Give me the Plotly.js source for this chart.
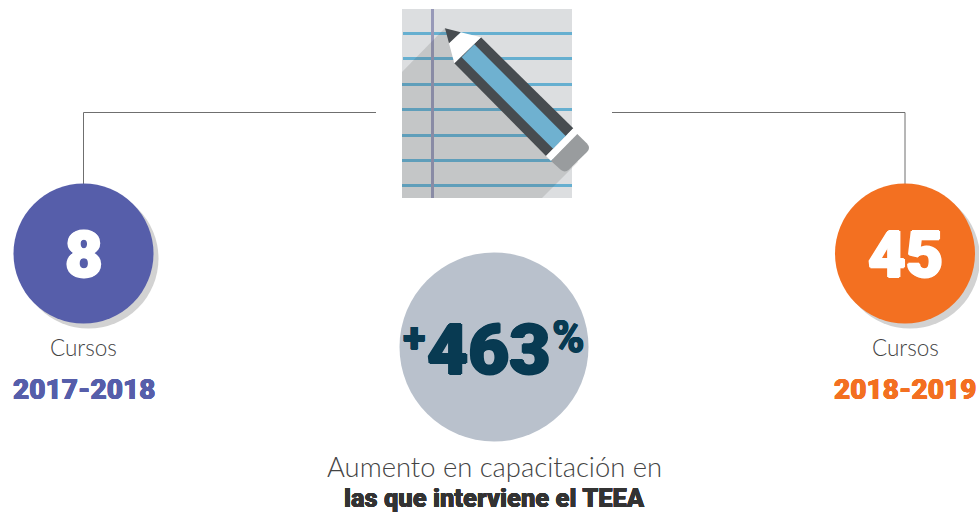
<!DOCTYPE html>
<html><head><meta charset="utf-8">
<script src="https://cdn.plot.ly/plotly-3.0.1.min.js"></script>
<style>html,body{margin:0;padding:0;background:#fff;overflow:hidden}#c{width:979px;height:512px}</style>
</head><body><div id="c"></div>
<script>
const courseValues = [8, 45];
const schoolYears = ['2017-2018', '2018-2019'];
const unitLabel = 'Cursos';
const increaseValue = 463;
const captionLines = ['Aumento en capacitación en', 'las que interviene el TEEA'];
const seriesColors = ['#565eaa', '#f37021'];

const centersX = [83.5, 905];
const ruleYs = [33, 58, 84, 109, 135, 160, 185];
const lightFace = 'Lato, sans-serif';
const heavyFace = 'Roboto, sans-serif';

function poly(pts, fill) {
  return {type:'path', xref:'x', yref:'y', path:'M' + pts.map(p => p.join(',')).join('L') + 'Z',
          fillcolor:fill, line:{width:0}, layer:'below'};
}
function rect(x0,y0,x1,y1,fill){
  return {type:'rect',xref:'x',yref:'y',x0,y0,x1,y1,fillcolor:fill,line:{width:0},layer:'below'};
}
function conn(d){
  return {type:'path',xref:'x',yref:'y',path:d,line:{color:'#6f6f6f',width:1},fillcolor:'rgba(0,0,0,0)',layer:'below'};
}
const shapes = [
  conn('M376,112.5L83.5,112.5L83.5,184'),
  conn('M612,112.5L905,112.5L905,184'),
  rect(402,9,572,198,'#dcdee0'),
  ...ruleYs.map((y,i) => rect(i<2?403:402, y-1, 572, y+2, '#66afd0')),
  rect(431,9,434,198,'#9799b8'),
  poly([[445,28],[402,72],[402,198],[542,198],[578,162]], 'rgba(60,60,60,0.15)'),
  poly([[481,37.3],[573.3,128.3],[546,156],[454.3,63.3]], '#474c50'),
  poly([[474.3,44.3],[565.7,136],[553.3,149],[461.7,57.3]], '#6fb1d0'),
  poly([[460.7,32.3],[481,37.3],[454.3,63.3],[449,43.3]], '#ffffff'),
  poly([[445,28.3],[460.7,32.3],[449,43.3]], '#474c50'),
  poly([[573.3,128.3],[577.3,134],[551,161],[546,156]], '#ffffff'),
  {type:'path',xref:'x',yref:'y',layer:'below',line:{width:0},fillcolor:'#999c9e',
   path:'M577.3,134L587,143.5Q591,148 587,152L569,169.5Q565,173 561,170L551,161Z'}
];

const traces = [
  {type:'scatter',mode:'markers',x:centersX.map(x=>x+5),y:[258.5,258.5],hoverinfo:'skip',
   marker:{size:140,color:'#d2d2d2',line:{width:0}}},
  {type:'scatter',mode:'markers',x:centersX,y:[253.5,253.5],hoverinfo:'skip',
   marker:{size:140,color:seriesColors,line:{width:0}}},
  {type:'scatter',mode:'markers',x:[494],y:[347],hoverinfo:'skip',
   marker:{size:189,color:'#b9c1cc',line:{width:0}}}
];

function note(text,x,y,size,color,weight,family,thick){
  const font = {family,size,color,weight};
  if (thick) {
    font.shadow = [[thick,0],[-thick,0],[0,thick],[0,-thick]]
      .map(o => o[0]+'px '+o[1]+'px 0 '+color).join(',');
  }
  return {text,x,y,xref:'x',yref:'y',showarrow:false,xanchor:'center',yanchor:'middle',font};
}
const annotations = [];
courseValues.forEach((v,i)=>{
  annotations.push(note(String(v),centersX[i],255,65,'#ffffff',900,heavyFace,1.2));
  annotations.push(note(unitLabel,centersX[i],347,22.5,'#444444',300,lightFace));
  annotations.push(note(schoolYears[i],centersX[i],389,28,seriesColors[i],900,heavyFace,0.4));
});
annotations.push(note('+',414,337,42,'#083a52',900,heavyFace,0.5));
annotations.push(note(String(increaseValue),488,349,71,'#083a52',900,heavyFace,1.2));
annotations.push(note('%',568,337,44,'#083a52',900,heavyFace,0.5));
annotations.push(note(captionLines[0],494,466,27.4,'#444444',300,lightFace));
annotations.push(note(captionLines[1],494,498,25.5,'#333333',900,heavyFace,0.25));

Plotly.newPlot('c',traces,{
  width:979,height:512,margin:{l:0,r:0,t:0,b:0},showlegend:false,
  paper_bgcolor:'#ffffff',plot_bgcolor:'#ffffff',
  xaxis:{range:[0,979],visible:false,fixedrange:true},
  yaxis:{range:[512,0],visible:false,fixedrange:true},
  shapes,annotations
},{displayModeBar:false,staticPlot:true});
</script></body></html>
